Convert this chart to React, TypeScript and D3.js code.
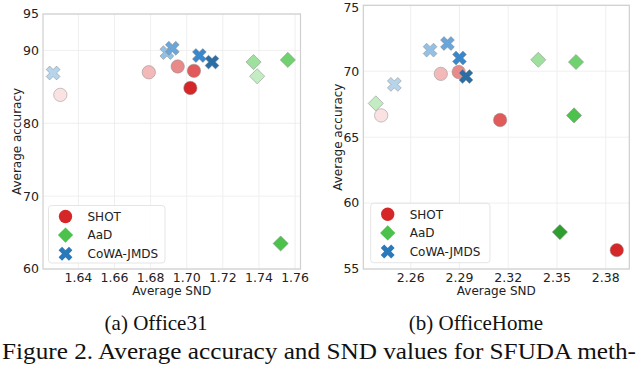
import React from 'react';
import * as d3 from 'd3';

// [Average SND, Average accuracy], light -> dark shade
const office31Shot = [[1.630, 83.9], [1.679, 87.0], [1.695, 87.8], [1.704, 87.2], [1.702, 84.85]];
const office31AaD = [[1.739, 86.45], [1.737, 88.4], [1.756, 88.7], [1.752, 63.5]];
const office31CoWA = [[1.626, 86.9], [1.689, 89.7], [1.692, 90.3], [1.707, 89.3], [1.714, 88.4]];

const officeHomeShot = [[2.2418, 66.65], [2.2785, 69.8], [2.2895, 69.94], [2.315, 66.3], [2.3868, 56.43]];
const officeHomeAaD = [[2.2385, 67.56], [2.3385, 70.87], [2.3617, 70.7], [2.3605, 66.65], [2.3518, 57.8]];
const officeHomeCoWA = [[2.2499, 69.0], [2.2719, 71.6], [2.2826, 72.1], [2.29, 71.0], [2.294, 69.6]];

const office31XTicks = [1.64, 1.66, 1.68, 1.70, 1.72, 1.74, 1.76];
const office31YTicks = [60, 70, 80, 90, 95];
const officeHomeXTicks = [2.26, 2.29, 2.32, 2.35, 2.38];
const officeHomeYTicks = [55, 60, 65, 70, 75];

const methods = ['SHOT', 'AaD', 'CoWA-JMDS'];
const legendColors = ['#d62728', '#4cc24c', '#2a79bb'];
const shotShades = ['#fbe2e2', '#f3b8b8', '#e98a8a', '#e15b5b', '#d62728'];
const aadShades = ['#c3ecc3', '#9fe09f', '#6fd26f', '#4cc24c', '#2e9e2e'];
const cowaShades = ['#b6d4ec', '#93c0e4', '#6aa6d9', '#3a88cc', '#2a6ea6'];

const caption = 'Figure 2. Average accuracy and SND values for SFUDA meth-';

const sans = 'DejaVu Sans, sans-serif';
const serif = 'Liberation Serif, Times New Roman, serif';

const circlePath = d3.symbol().type(d3.symbolCircle).size(140)();
const diamondPath = d3.symbol().type(d3.symbolSquare).size(115)();
const crossPath = d3.symbol().type(d3.symbolCross).size(120)();

function Marker({ kind, x, y, fill, edge }) {
  const d = kind === 0 ? circlePath : kind === 1 ? diamondPath : crossPath;
  const rot = kind === 0 ? '' : ' rotate(45)';
  return (
    <path d={d} transform={`translate(${x},${y})${rot}`} fill={fill}
      stroke={edge ? '#8a8a8a' : 'none'} strokeOpacity={0.7} strokeWidth={0.7} />
  );
}

function Panel({ box, xDomain, yDomain, xTicks, yTicks, series, legend }) {
  const x = d3.scaleLinear().domain(xDomain).range([box.x0, box.x1]);
  const y = d3.scaleLinear().domain(yDomain).range([box.y1, box.y0]);
  const fmt = d3.format('.2f');
  const shades = [shotShades, aadShades, cowaShades];
  return (
    <g>
      {xTicks.map(t => (
        <line key={'gx' + t} x1={x(t)} x2={x(t)} y1={box.y0} y2={box.y1} stroke="#ebebeb" strokeWidth={0.8} />
      ))}
      {yTicks.map(t => (
        <line key={'gy' + t} x1={box.x0} x2={box.x1} y1={y(t)} y2={y(t)} stroke="#ebebeb" strokeWidth={0.8} />
      ))}
      <rect x={box.x0} y={box.y0} width={box.x1 - box.x0} height={box.y1 - box.y0}
        fill="none" stroke="#cfcfcf" strokeWidth={1.2} />
      {series.map((pts, m) =>
        pts.map((p, i) => (
          <Marker key={m + '-' + i} kind={m} x={x(p[0])} y={y(p[1])} fill={shades[m][i]} edge />
        ))
      )}
      {xTicks.map(t => (
        <text key={'tx' + t} x={x(t)} y={box.y1 + 13} textAnchor="middle"
          fontFamily={sans} fontSize={12.5} fill="#222">{fmt(t)}</text>
      ))}
      {yTicks.map(t => (
        <text key={'ty' + t} x={box.x0 - 4} y={Math.max(y(t), 7.5)} dy="0.35em" textAnchor="end"
          fontFamily={sans} fontSize={12.5} fill="#222">{t}</text>
      ))}
      <text x={(box.x0 + box.x1) / 2} y={box.y1 + 26} textAnchor="middle"
        fontFamily={sans} fontSize={12} fill="#222">Average SND</text>
      <text transform={`translate(${box.x0 - 26},${(box.y0 + box.y1) / 2}) rotate(-90)`}
        textAnchor="middle" dy="0.35em" fontFamily={sans} fontSize={12} fill="#222">Average accuracy</text>
      <g>
        <rect x={legend.x} y={legend.y} width={legend.w} height={legend.h} rx={3}
          fill="#fff" fillOpacity={0.85} stroke="#dedede" strokeWidth={0.8} />
        {methods.map((name, m) => (
          <g key={name}>
            <Marker kind={m} x={legend.x + 17} y={legend.y + 11 + m * 18.6} fill={legendColors[m]} edge={false} />
            <text x={legend.x + 39} y={legend.y + 11 + m * 18.6} dy="0.35em"
              fontFamily={sans} fontSize={12} fill="#222">{name}</text>
          </g>
        ))}
      </g>
    </g>
  );
}

export default function App() {
  return (
    <svg width={640} height={365} style={{ position: 'absolute', left: 0, top: 0, background: '#fff' }}>
      <Panel
        box={{ x0: 43, x1: 300.5, y0: 14, y1: 269 }}
        xDomain={[1.6204, 1.763]} yDomain={[60, 95]}
        xTicks={office31XTicks} yTicks={office31YTicks}
        series={[office31Shot, office31AaD, office31CoWA]}
        legend={{ x: 48.5, y: 205.5, w: 116.5, h: 57.5 }}
      />
      <Panel
        box={{ x0: 363.3, x1: 629.3, y0: 5.3, y1: 269 }}
        xDomain={[2.2308, 2.3945]} yDomain={[55, 75]}
        xTicks={officeHomeXTicks} yTicks={officeHomeYTicks}
        series={[officeHomeShot, officeHomeAaD, officeHomeCoWA]}
        legend={{ x: 370.7, y: 203.3, w: 119.3, h: 59.4 }}
      />
      <text x={156} y={330} textAnchor="middle" fontFamily={serif} fontSize={21} fill="#111">(a)  Office31</text>
      <text x={476} y={330} textAnchor="middle" fontFamily={serif} fontSize={21} fill="#111">(b)  OfficeHome</text>
      <text x={2} y={359} textLength={634} lengthAdjust="spacingAndGlyphs" fontFamily={serif} fontSize={23} fill="#111">
        {caption}
      </text>
    </svg>
  );
}
